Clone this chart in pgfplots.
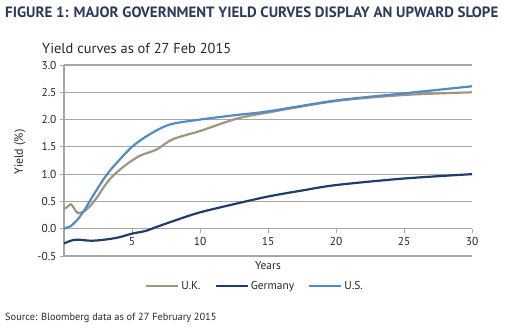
\documentclass[border=0pt]{standalone}
\usepackage{fontspec}
\setmainfont{PT Sans}
\usepackage{pgfplots}
\pgfplotsset{compat=1.18}
\definecolor{ukc}{RGB}{163,148,128}
\definecolor{dec}{RGB}{28,61,110}
\definecolor{usc}{RGB}{79,141,201}
\definecolor{gridc}{RGB}{166,166,166}
\definecolor{hdr}{RGB}{43,58,92}
\definecolor{txt}{RGB}{40,40,40}
\begin{document}
\begin{tikzpicture}[x=1bp,y=1bp]
\useasboundingbox (0,0) rectangle (524,328);
\node[anchor=west,font=\bfseries\fontsize{15}{16}\selectfont,text=hdr,inner sep=0] at (5,316) {FIGURE 1: MAJOR GOVERNMENT YIELD CURVES DISPLAY AN UPWARD SLOPE};
\node[anchor=west,font=\fontsize{14.5}{16}\selectfont,text=txt,inner sep=0] at (42,280) {Yield curves as of 27 Feb 2015};
\node[anchor=west,font=\fontsize{10.4}{12}\selectfont,text=txt,inner sep=0] at (5,10) {Source: Bloomberg data as of 27 February 2015};
\node[rotate=90,font=\fontsize{12}{13}\selectfont,text=txt] at (20,176) {Yield (\%)};
\begin{axis}[at={(64bp,72bp)}, anchor=south west, scale only axis,
  width=408bp, height=191bp,
  xmin=0, xmax=30, ymin=-0.5, ymax=3,
  axis x line=middle, axis y line=left,
  axis line style={-, gridc, line width=1.2pt},
  xtick={0,5,...,30}, ytick={-0.5,0,...,3},
  tick align=outside, major tick length=4bp,
  tick style={gridc, line width=1pt},
  ymajorgrids, grid style={gridc, line width=1.2pt},
  /pgf/number format/assume math mode=true,
  ticklabel style={font=\fontsize{11.5}{12}\selectfont, text=txt},
  yticklabel style={/pgf/number format/.cd, fixed, fixed zerofill, precision=1},
  xticklabel style={below, yshift=-1bp},
  legend columns=3,
  legend style={draw=none, at={(0.468,-0.157)}, anchor=center, font=\fontsize{11.5}{12}\selectfont, text=txt,
    /tikz/every even column/.append style={column sep=12bp}},
  legend image code/.code={\draw[#1] (0bp,0bp) -- (32bp,0bp);},
  every axis plot/.append style={line width=2.2pt, smooth, no marks},
  clip=false,
]
\addplot[ukc] coordinates {(0,0.37) (0.2,0.39) (0.5,0.45) (0.75,0.37) (1,0.29) (1.5,0.32) (2,0.44) (2.5,0.6) (3,0.79) (3.6,0.97) (4.6,1.18) (5.6,1.34) (6.8,1.45) (8,1.64) (10,1.79) (11.5,1.92) (12.9,2.03) (15,2.13) (20,2.34) (25,2.45) (30,2.5)};
\addlegendentry{U.K.}
\addplot[dec] coordinates {(0,-0.27) (0.5,-0.22) (1,-0.2) (2,-0.22) (3,-0.2) (4,-0.16) (5,-0.09) (6,-0.04) (7,0.05) (8.5,0.18) (10,0.3) (12.5,0.45) (15,0.59) (17.5,0.7) (20,0.8) (25,0.92) (30,1.0)};
\addlegendentry{Germany}
\addplot[usc] coordinates {(0,0.0) (0.5,0.05) (1,0.17) (1.5,0.34) (2,0.55) (2.5,0.75) (3,0.94) (3.6,1.13) (5,1.5) (6.3,1.73) (7.8,1.91) (10,2.0) (12.9,2.09) (15,2.15) (20,2.35) (25,2.48) (30,2.61)};
\addlegendentry{U.S.}
\node[font=\fontsize{11.5}{12}\selectfont, text=txt] at (rel axis cs:0.5,-0.052) {Years};
\end{axis}
\end{tikzpicture}
\end{document}
